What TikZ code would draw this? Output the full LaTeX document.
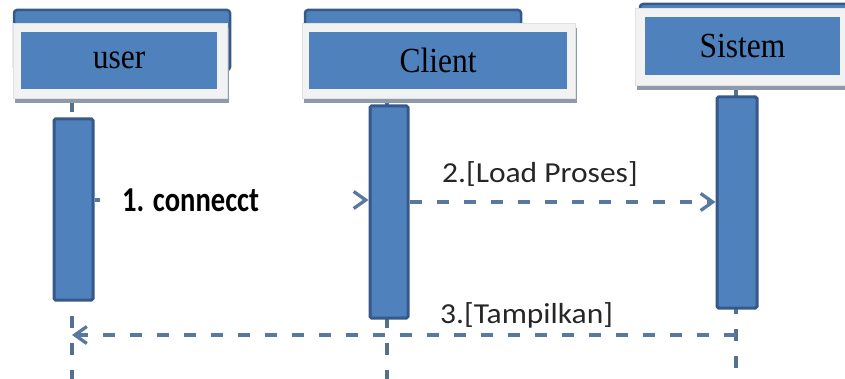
\documentclass[tikz,border=0pt]{standalone}
\usepackage{fontspec}
\usepackage{graphicx}
\setmainfont{Liberation Serif}
\newfontfamily\msgfont{Carlito}
\usetikzlibrary{arrows.meta}

\definecolor{hdrblue}{HTML}{4F81BD}
\definecolor{hdrdark}{HTML}{365A87}
\definecolor{framegray}{HTML}{F2F2F2}
\definecolor{shadowgray}{HTML}{8E9AAC}
\definecolor{barline}{HTML}{36598A}
\definecolor{lifec}{HTML}{55708F}
\definecolor{msgc}{HTML}{58789F}

\tikzset{
  backbox/.style={draw=hdrdark, line width=2.5pt, fill=hdrblue, rounded corners=3pt, inner sep=0pt},
  framebox/.style={fill=framegray, draw=framegray!85!gray, line width=0.6pt, inner sep=0pt},
  shadowbox/.style={fill=shadowgray, inner sep=0pt},
  innerbox/.style={fill=hdrblue, inner sep=0pt,
    font=\fontsize{31.5}{36}\selectfont},
  actbar/.style={fill=hdrblue, draw=barline, line width=3pt, rounded corners=1.5pt, inner sep=0pt},
  lifeline/.style={draw=lifec, line width=3.2pt, dash pattern=on 12pt off 15pt},
  msg/.style={draw=msgc, line width=3.3pt, dash pattern=on 12pt off 15pt,
    -{Straight Barb[length=12pt,width=17pt]}},
  msglabel/.style={inner sep=0pt, anchor=base west, text=black!85,
    font=\msgfont\fontsize{31.5}{36}\selectfont},
}

\begin{document}
\begin{tikzpicture}[x=1pt,y=-1pt]
\useasboundingbox (0,0) rectangle (845,379);
\clip (0,0) rectangle (845,379);

% lifelines (drawn first, behind the headers and bars)
\coordinate (uTop) at (72,100);
\coordinate (uBot) at (72,379);
\coordinate (cTop) at (387,100);
\coordinate (cBot) at (387,379);
\coordinate (sTop) at (736,86);
\coordinate (sBot) at (736,379);
\draw[lifeline] (uTop) -- (uBot);
\draw[lifeline] (cTop) -- (cBot);
\draw[lifeline] (sTop) -- (sBot);

% header: user
\node[backbox, minimum width=216pt, minimum height=60pt] (userBack) at (122,40) {};
\node[shadowbox, minimum width=214pt, minimum height=75pt] (userShadow) at (122,65.5) {};
\node[framebox, minimum width=214pt, minimum height=75pt] (userFrame) at (120,60.5) {};
\node[innerbox, minimum width=196pt, minimum height=57pt] (user) at (119,60.5) {\scalebox{1}[1.12]{user}};

% header: Client
\node[backbox, minimum width=216pt, minimum height=60pt] (clientBack) at (413,40) {};
\node[shadowbox, minimum width=273pt, minimum height=75pt] (clientShadow) at (440.5,65.5) {};
\node[framebox, minimum width=273pt, minimum height=75pt] (clientFrame) at (438.5,60.5) {};
\node[innerbox, minimum width=258pt, minimum height=57pt] (client) at (438,60.5) {\scalebox{1}[1.12]{Client}};

% header: Sistem
\node[backbox, minimum width=220pt, minimum height=60pt] (sistemBack) at (750,34) {};
\node[shadowbox, minimum width=220pt, minimum height=77pt] (sistemShadow) at (747,51.5) {};
\node[framebox, minimum width=220pt, minimum height=77pt] (sistemFrame) at (745,46.5) {};
\node[innerbox, minimum width=195pt, minimum height=58pt] (sistem) at (742.5,46) {\scalebox{1}[1.12]{Sistem}};

% activation bars
\node[actbar, minimum width=39pt, minimum height=181pt] (userBar) at (73.5,209.5) {};
\node[actbar, minimum width=38pt, minimum height=212pt] (clientBar) at (389,212) {};
\node[actbar, minimum width=40pt, minimum height=211pt] (sistemBar) at (737,202.5) {};

% message 1: user -> Client
\coordinate (m1y) at (0,200);
\draw[msg] (userBar.east |- m1y) -- (clientBar.west |- m1y);
\node[fill=white, inner sep=0pt, minimum width=252pt, minimum height=150pt] (mask) at (226,247) {};
\node[inner sep=0pt, anchor=base west, text=black,
      font=\msgfont\bfseries\fontsize{28.6}{34}\selectfont] (m1label) at (122,212)
      {\scalebox{1}[1.22]{1. connecct}};

% message 2: Client -> Sistem
\coordinate (m2y) at (0,202);
\draw[msg] (clientBar.east |- m2y) -- (sistemBar.west |- m2y);
\node[msglabel] (m2label) at (442,183) {\scalebox{1}[0.92]{2.[Load Proses]}};

% message 3: Sistem -> user (return)
\coordinate (m3s) at (736,335);
\coordinate (m3e) at (72,335);
\draw[msg] (m3s) -- (m3e);
\node[msglabel] (m3label) at (440,323) {\scalebox{1}[0.92]{3.[Tampilkan]}};
\end{tikzpicture}
\end{document}
